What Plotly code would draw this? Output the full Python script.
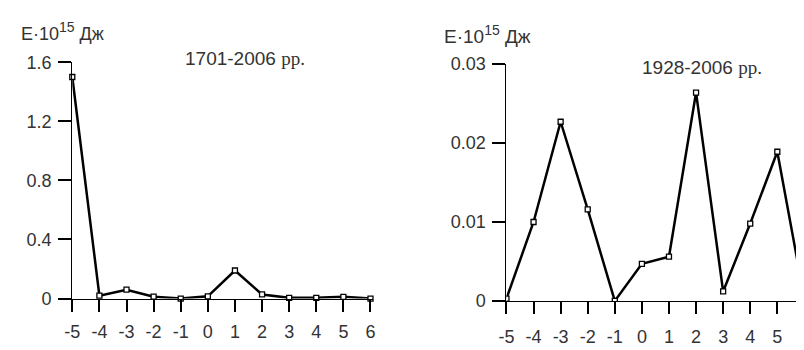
import plotly.graph_objects as go

# Data
x_left = [-5, -4, -3, -2, -1, 0, 1, 2, 3, 4, 5, 6]
e_left = [1.50, 0.02, 0.06, 0.013, 0.0, 0.015, 0.19, 0.028, 0.005, 0.005, 0.012, 0.0]
x_right = [-5, -4, -3, -2, -1, 0, 1, 2, 3, 4, 5, 6]
e_right = [0.0003, 0.0100, 0.0227, 0.0116, 0.0, 0.0047, 0.0056, 0.0264, 0.0012, 0.0098, 0.0189, 0.0003]
y_major_left = [0, 0.4, 0.8, 1.2, 1.6]
y_minor_left = [0.2, 0.6, 1.0, 1.4]
y_major_right = [0, 0.01, 0.02, 0.03]
y_minor_right = [0.005, 0.015, 0.025]
title_left = "1701-2006 "
title_right = "1928-2006 "
unit_main = "E·10"
unit_sup = "15"
unit_tail = " Дж"

# the page body has an 8px default margin: figure fills the rest of the 804x350 window
OFF = 8
W, H = 804 - OFF, 350 - OFF
FONT = "Liberation Sans, Arial, sans-serif"
SERIF = "Liberation Serif, Times New Roman, serif"
TXT = "#333333"

def px_x(p):
    return (p - OFF) / W

def px_y(p):
    return 1 - (p - OFF) / H

def fmt(v):
    return "%g" % v

fig = go.Figure()

marker = dict(symbol="square", size=5, color="white", line=dict(color="black", width=1.3))
fig.add_trace(go.Scatter(x=x_left, y=e_left, mode="lines+markers",
                         line=dict(color="black", width=2.5), marker=marker,
                         xaxis="x", yaxis="y", cliponaxis=False, showlegend=False))
fig.add_trace(go.Scatter(x=x_right, y=e_right, mode="lines+markers",
                         line=dict(color="black", width=2.5), marker=marker,
                         xaxis="x2", yaxis="y2", cliponaxis=True, showlegend=False))

# left geometry (window pixels)
lx0, lx6 = 65, 367
lunit = (lx6 - lx0) / 11
l_range = [-5, 6 + 3 / lunit]
# right geometry
rx0, rx5 = 504.7, 779
runit = (rx5 - rx0) / 10
r_range = [-5, -5 + (804 - rx0) / runit]

tickfont = dict(family=FONT, size=18, color=TXT)
common_x = dict(showgrid=False, zeroline=False, showline=True, linecolor="black", linewidth=1.2,
                ticks="outside", ticklen=12, tickcolor="black", tickwidth=1.5,
                tickfont=tickfont, tickmode="array")
common_y = dict(showgrid=False, zeroline=False, showline=True, linecolor="black", linewidth=1.2,
                ticks="outside", ticklen=13, tickcolor="black", tickwidth=1.5,
                tickfont=tickfont, tickmode="array")
minor_y = dict(showgrid=False, zeroline=False, showline=False, ticks="outside", ticklen=7,
               tickcolor="black", tickwidth=1.5, showticklabels=False, tickmode="array")
ext_x = dict(showgrid=False, zeroline=False, showline=True, linecolor="black", linewidth=1.2,
             ticks="", showticklabels=False, range=[0, 1])

ly_dom = [px_y(306), px_y(55)]
ry_dom = [px_y(308.5), px_y(57)]

fig.update_layout(
    width=W, height=H, margin=dict(l=0, r=0, t=0, b=0),
    paper_bgcolor="white", plot_bgcolor="white",
    xaxis=dict(common_x, domain=[px_x(lx0), px_x(370)], range=l_range, anchor="y",
               tickvals=x_left, ticktext=[fmt(v) for v in x_left], ticklabelstandoff=5),
    yaxis=dict(common_y, domain=ly_dom, range=[0, 1.6], anchor="x",
               tickvals=y_major_left, ticktext=[fmt(v) for v in y_major_left],
               ticklabelstandoff=3),
    yaxis3=dict(minor_y, range=[0, 1.6], overlaying="y", anchor="x", side="left",
                tickvals=y_minor_left),
    xaxis3=dict(ext_x, domain=[px_x(52), px_x(370)], anchor="y"),
    xaxis2=dict(common_x, domain=[px_x(rx0), 1.0], range=r_range, anchor="y2",
                tickvals=x_right, ticktext=[fmt(v) for v in x_right], ticklabelstandoff=7),
    yaxis2=dict(common_y, domain=ry_dom, range=[0, 0.03], anchor="x2",
                tickvals=y_major_right, ticktext=[fmt(v) for v in y_major_right],
                ticklabelstandoff=3),
    yaxis4=dict(minor_y, range=[0, 0.03], overlaying="y2", anchor="x2", side="left",
                tickvals=y_minor_right),
    xaxis4=dict(ext_x, domain=[px_x(492), 1.0], anchor="y2"),
)

unit_label = (unit_main + "<sup><span style='font-size:14px'>" + unit_sup + "</span></sup>" + unit_tail)

ann = []
ann.append(dict(text=unit_label, x=px_x(11), y=px_y(22), xref="paper", yref="paper",
                xanchor="left", yanchor="middle", showarrow=False,
                font=dict(family=FONT, size=18, color=TXT)))
ann.append(dict(text=unit_label, x=px_x(439), y=px_y(26), xref="paper", yref="paper",
                xanchor="left", yanchor="middle", showarrow=False,
                font=dict(family=FONT, size=19, color=TXT)))
ann.append(dict(text=title_left + "<span style='font-family:" + SERIF + "; font-size:19px'>рр.</span>",
                x=px_x(177), y=px_y(51), xref="paper", yref="paper",
                xanchor="left", yanchor="middle", showarrow=False,
                font=dict(family=FONT, size=19, color=TXT)))
ann.append(dict(text=title_right + "<span style='font-family:" + SERIF + "; font-size:19px'>рр.</span>",
                x=px_x(640), y=px_y(61), xref="paper", yref="paper",
                xanchor="left", yanchor="middle", showarrow=False,
                font=dict(family=FONT, size=19, color=TXT)))
fig.update_layout(annotations=ann)

fig.write_html("out.html")
